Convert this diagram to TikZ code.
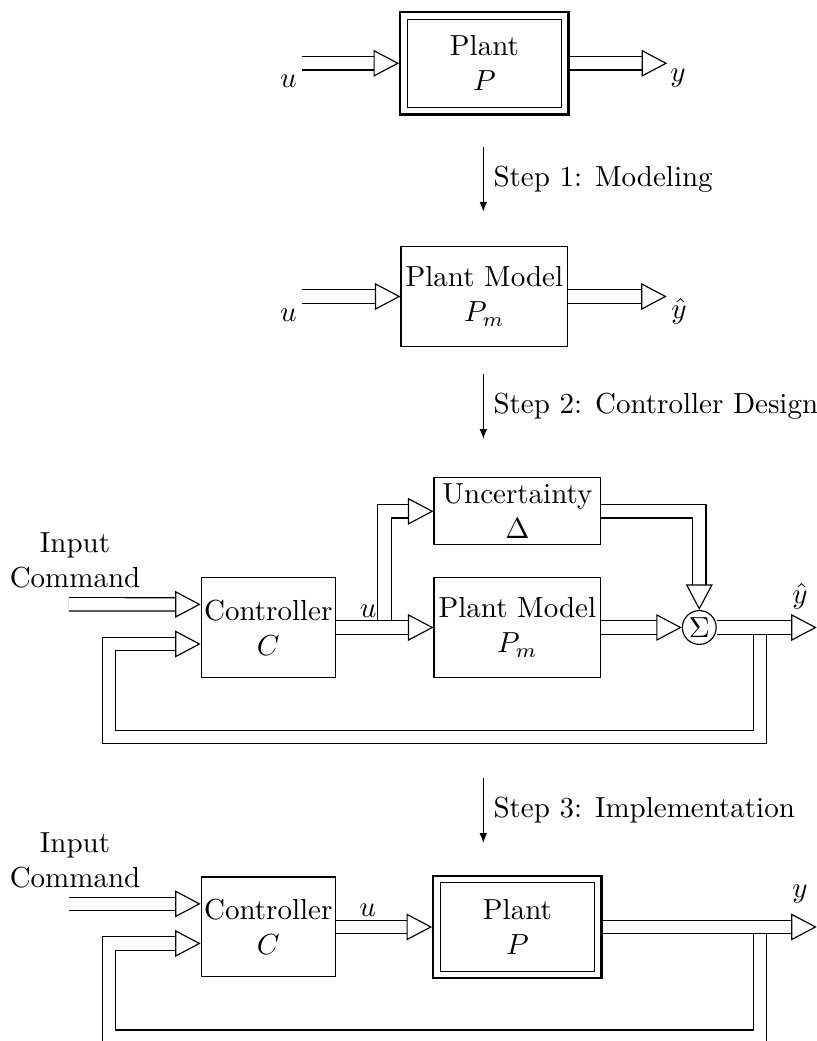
\documentclass[tikz,border=0pt]{standalone}
\usepackage{amsmath}
\usepackage{amssymb}
\usepackage{tikz}
\usetikzlibrary{arrows.meta,calc}

\begin{document}
\begin{tikzpicture}[
    block/.style={rectangle, draw=black, minimum width=2.02cm, minimum height=1.21cm, inner sep=1pt, align=center},
    ctrlbox/.style={block, minimum width=1.6cm},
    uncbox/.style={rectangle, draw=black, minimum width=2.02cm, minimum height=0.81cm, inner sep=1pt, align=center},
    plantbox/.style={rectangle, draw=black, thick, minimum width=2.04cm, minimum height=1.24cm, inner sep=1pt, align=center},
    sumnode/.style={circle, draw=black, minimum size=0.41cm, inner sep=0pt},
    bigarrow/.style={draw=white, -{Triangle[length=8.8pt, width=9.2pt, color=black, fill=white]},
        preaction={draw=black, arrows=-, double=white, double distance=4.2pt, shorten >=8pt}},
    steparrow/.style={-{Latex[length=3.4pt, width=2.6pt]}}
]
    \useasboundingbox (0,0) rectangle (9.90,-12.615);

    % The real plant
    \node[plantbox] (plant1) at (5.870,-0.767) {Plant\\$P$};
    \draw ([shift={(2.8pt,-2.8pt)}]plant1.north west) rectangle ([shift={(-2.8pt,2.8pt)}]plant1.south east);
    \coordinate (uin1) at (3.656,-0.767);
    \coordinate (yout1) at (8.086,-0.767);
    \node (ulab1) at (3.494,-0.990) {$u$};
    \node (ylab1) at (8.216,-0.945) {$y$};
    \draw[bigarrow] (uin1) -- (plant1);
    \draw[bigarrow] (plant1) -- (yout1);

    % Step 1
    \coordinate (s1top) at (5.857,-1.778);
    \coordinate (s1bot) at (5.857,-2.565);
    \draw[steparrow] (s1top) -- node[right] (step1) {Step 1: Modeling} (s1bot);

    % The plant model
    \node[block] (pm1) at (5.870,-3.593) {Plant Model\\$P_m$};
    \coordinate (uin2) at (3.656,-3.593);
    \coordinate (yout2) at (8.079,-3.593);
    \node (ulab2) at (3.494,-3.817) {$u$};
    \node (ylab2) at (8.228,-3.777) {$\hat{y}$};
    \draw[bigarrow] (uin2) -- (pm1);
    \draw[bigarrow] (pm1) -- (yout2);

    % Step 2
    \coordinate (s2top) at (5.857,-4.532);
    \coordinate (s2bot) at (5.857,-5.320);
    \draw[steparrow] (s2top) -- node[right] (step2) {Step 2: Controller Design} (s2bot);

    % Design loop with uncertainty
    \node[uncbox] (unc) at (6.270,-6.196) {Uncertainty\\$\Delta$};
    \node[block] (pm2) at (6.270,-7.604) {Plant Model\\$P_m$};
    \node[ctrlbox] (ctrl1) at (3.251,-7.604) {Controller\\$C$};
    \node[sumnode] (sum) at (8.474,-7.604) {$\Sigma$};
    \node[align=center] (cmd1) at (0.909,-6.790) {Input\\Command};
    \node (ylab3) at (9.694,-7.222) {$\hat{y}$};
    \coordinate (in1) at (0.836,-7.323);
    \coordinate (br1) at (4.659,-7.604);
    \coordinate (fb1) at (9.210,-7.604);
    \coordinate (fbl1) at (1.321,-8.931);
    \coordinate (yout3) at (9.897,-7.604);
    % branch and feedback first, main arrows go over them
    \draw[bigarrow] (br1) |- (unc);
    \draw[bigarrow] (fb1) |- (fbl1) |- ([yshift=-0.2cm]ctrl1.west);
    \draw[bigarrow] (in1) -- ([yshift=0.28cm]ctrl1.west);
    \draw[bigarrow] (ctrl1) -- node[above, pos=0.33] (ulab3) {$u$} (pm2);
    \draw[bigarrow] (unc) -| (sum);
    \draw[bigarrow] (pm2) -- (sum);
    \draw[bigarrow] (sum) -- (yout3);

    % Step 3
    \coordinate (s3top) at (5.857,-9.428);
    \coordinate (s3bot) at (5.857,-10.216);
    \draw[steparrow] (s3top) -- node[right] (step3) {Step 3: Implementation} (s3bot);

    % Implemented loop
    \node[ctrlbox] (ctrl2) at (3.251,-11.233) {Controller\\$C$};
    \node[plantbox] (plant2) at (6.270,-11.233) {Plant\\$P$};
    \draw ([shift={(2.8pt,-2.8pt)}]plant2.north west) rectangle ([shift={(-2.8pt,2.8pt)}]plant2.south east);
    \node[align=center] (cmd2) at (0.909,-10.425) {Input\\Command};
    \node (ylab4) at (9.694,-10.834) {$y$};
    \coordinate (in2) at (0.836,-10.953);
    \coordinate (fb2) at (9.210,-11.233);
    \coordinate (fbl2) at (1.321,-12.563);
    \coordinate (yout4) at (9.897,-11.233);
    \draw[bigarrow] (fb2) |- (fbl2) |- ([yshift=-0.2cm]ctrl2.west);
    \draw[bigarrow] (in2) -- ([yshift=0.28cm]ctrl2.west);
    \draw[bigarrow] (ctrl2) -- node[above, pos=0.33] (ulab4) {$u$} (plant2);
    \draw[bigarrow] (plant2) -- (yout4);
\end{tikzpicture}
\end{document}
